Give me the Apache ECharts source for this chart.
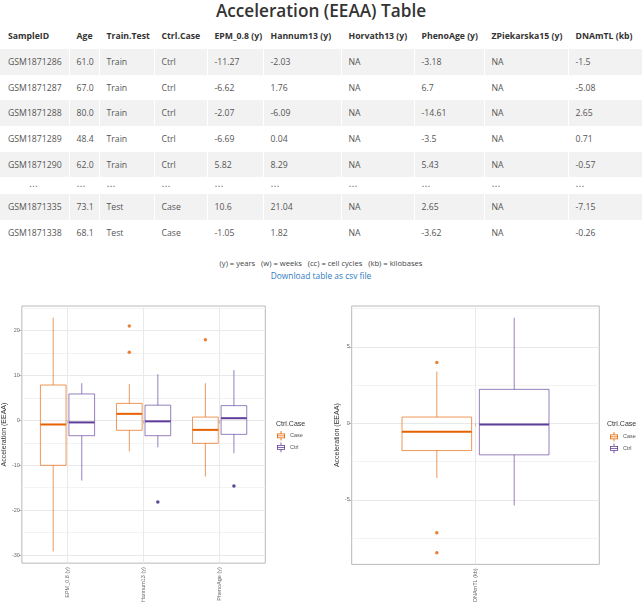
<!DOCTYPE html>
<html>
<head>
<meta charset="utf-8">
<script src="https://cdn.jsdelivr.net/npm/echarts/dist/echarts.min.js"></script>
<style>
  html, body { margin:0; padding:0; background:#fff; }
  body { width:642px; height:605px; position:relative; overflow:hidden; font-family:'Open Sans', sans-serif; }
  #title { position:absolute; top:0; left:0; width:642px; text-align:center; font-size:17.2px; line-height:22px; font-weight:600; color:#333; }
  #tbl { position:absolute; top:23px; left:0; width:642px; border-collapse:collapse; table-layout:fixed; font-size:8.7px; color:#555; }
  #tbl td, #tbl th { padding:0 0 0 7px; text-align:left; white-space:nowrap; overflow:hidden; border-left:1px solid #fff; }
  #tbl td:first-child, #tbl th:first-child { padding-left:8px; border-left:none; }
  #tbl th { font-weight:700; color:#333; }
  #tbl tr.g td { background:#f2f2f2; }
  #tbl td.dots { font-family:'DejaVu Sans'; font-size:9px; color:#666; }
  #note { position:absolute; top:257px; left:0; width:642px; text-align:center; font-size:7.6px; color:#444; line-height:13px; white-space:pre; }
  #link { position:absolute; top:269px; left:0; width:642px; text-align:center; font-size:8.4px; color:#2f7bbf; line-height:13px; }
  #chart { position:absolute; top:290px; left:0; width:642px; height:315px; }
</style>
</head>
<body>
<div id="title">Acceleration (EEAA) Table</div>
<table id="tbl"></table>
<div id="note"></div>
<div id="link">Download table as csv file</div>
<div id="chart"></div>
<script>
// ---------- table data ----------
const tableHeaders = ['SampleID','Age','Train.Test','Ctrl.Case','EPM_0.8 (y)','Hannum13 (y)','Horvath13 (y)','PhenoAge (y)','ZPiekarska15 (y)','DNAmTL (kb)'];
const tableRows = [
  ['GSM1871286','61.0','Train','Ctrl','-11.27','-2.03','NA','-3.18','NA','-1.5'],
  ['GSM1871287','67.0','Train','Ctrl','-6.62','1.76','NA','6.7','NA','-5.08'],
  ['GSM1871288','80.0','Train','Ctrl','-2.07','-6.09','NA','-14.61','NA','2.65'],
  ['GSM1871289','48.4','Train','Ctrl','-6.69','0.04','NA','-3.5','NA','0.71'],
  ['GSM1871290','62.0','Train','Ctrl','5.82','8.29','NA','5.43','NA','-0.57'],
  ['⋯','⋯','⋯','⋯','⋯','⋯','⋯','⋯','⋯','⋯'],
  ['GSM1871335','73.1','Test','Case','10.6','21.04','NA','2.65','NA','-7.15'],
  ['GSM1871338','68.1','Test','Case','-1.05','1.82','NA','-3.62','NA','-0.26']
];
const footnote = '(y) = years   (w) = weeks   (cc) = cell cycles   (kb) = kilobases';

// ---------- boxplot data ----------
const categoriesLeft = ['EPM_0.8 (y)','Hannum13 (y)','PhenoAge (y)'];
// [lower whisker, Q1, median, Q3, upper whisker]
const caseStatsLeft = [[-29.2,-10.0,-0.9,7.9,22.9],[-6.9,-2.2,1.47,3.8,8.1],[-12.5,-5.1,-2.1,0.75,8.3]];
const ctrlStatsLeft = [[-13.4,-3.4,-0.44,5.9,8.3],[-6.0,-3.4,-0.2,3.4,10.3],[-7.3,-3.1,0.5,3.3,11.2]];
// [category index, value]
const caseOutliersLeft = [[1,21.04],[1,15.2],[2,18.0]];
const ctrlOutliersLeft = [[1,-18.2],[2,-14.61]];
const ticksLeft = [-30,-20,-10,0,10,20];
const minorTicksLeft = [-25,-15,-5,5,15,25];

const categoriesRight = ['DNAmTL (kb)'];
const caseStatsRight = [[-3.57,-1.78,-0.55,0.41,3.38]];
const ctrlStatsRight = [[-5.37,-2.06,-0.08,2.22,6.9]];
const caseOutliersRight = [[0,3.98],[0,-7.15],[0,-8.45]];
const ctrlOutliersRight = [];
const ticksRight = [-5,0,5];
const minorTicksRight = [-7.5,-2.5,2.5,7.5];

const groupNames = ['Case','Ctrl'];
const legendTitle = 'Ctrl.Case';
const yTitle = 'Acceleration (EEAA)';

// ---------- build table ----------
(function(){
  const t = document.getElementById('tbl');
  const widths = [69,30,55,53,56,78,73,70,84,74];
  let html = '<colgroup>' + widths.map(w=>'<col style="width:'+w+'px">').join('') + '</colgroup>';
  html += '<tr style="height:26px">' + tableHeaders.map(h=>'<th>'+h+'</th>').join('') + '</tr>';
  tableRows.forEach((r,i)=>{
    const isDots = r[0] === '⋯';
    const cls = (i % 2 === 0) ? 'g' : '';
    const h = isDots ? 17 : 25.7;
    html += '<tr class="'+cls+'" style="height:'+h+'px">' + r.map((c,j)=>{
      if (isDots) return '<td class="dots"' + (j===0?' style="padding-left:29px"':'') + '>'+c+'</td>';
      return '<td>'+c+'</td>';
    }).join('') + '</tr>';
  });
  t.innerHTML = html;
  document.getElementById('note').textContent = footnote;
})();

// ---------- chart ----------
const CASE_COLOR = '#e66101';
const CTRL_COLOR = '#5e3c99';
const CASE_PT = '#e66101';
const CTRL_PT = '#2e1c7a';
const BOX_W = 0.3375, DODGE = 0.1875;

function expandRange(stats, outs){
  let lo = Infinity, hi = -Infinity;
  stats.forEach(s=>s.forEach(v=>{lo=Math.min(lo,v);hi=Math.max(hi,v);}));
  outs.forEach(o=>{lo=Math.min(lo,o[1]);hi=Math.max(hi,o[1]);});
  const pad = (hi-lo)*0.05;
  return [lo-pad, hi+pad];
}
const rangeLeft = expandRange(caseStatsLeft.concat(ctrlStatsLeft), caseOutliersLeft.concat(ctrlOutliersLeft));
const rangeRight = expandRange(caseStatsRight.concat(ctrlStatsRight), caseOutliersRight.concat(ctrlOutliersRight));

function boxData(stats, sign){ return stats.map((s,i)=>[i+1+sign*DODGE].concat(s)); }
function outData(outs, sign){ return outs.map(o=>[o[0]+1+sign*DODGE, o[1]]); }

function makeRender(color){
  return function(params, api){
    const x = api.value(0);
    const lo = api.coord([x, api.value(1)]);
    const q1 = api.coord([x, api.value(2)]);
    const md = api.coord([x, api.value(3)]);
    const q3 = api.coord([x, api.value(4)]);
    const hi = api.coord([x, api.value(5)]);
    const hw = api.size([BOX_W, 0])[0] / 2;
    const cx = md[0];
    const thin = {stroke: color, lineWidth: 1, opacity: 0.65, fill: 'none'};
    return {type:'group', children:[
      {type:'line', shape:{x1:cx,y1:hi[1],x2:cx,y2:q3[1]}, style:thin},
      {type:'line', shape:{x1:cx,y1:q1[1],x2:cx,y2:lo[1]}, style:thin},
      {type:'rect', shape:{x:cx-hw,y:q3[1],width:2*hw,height:q1[1]-q3[1]}, style:thin},
      {type:'line', shape:{x1:cx-hw,y1:md[1],x2:cx+hw,y2:md[1]}, style:{stroke:color,lineWidth:2}}
    ]};
  };
}

const FONT = 'Liberation Sans';
const LBL = '#6b6b6b';
const GRID_C = '#e9e9e9';
const MINOR_C = '#f3f3f3';
const BORDER_C = '#b8b8b8';
const ICON = 'path://M4.5,0H5.5V3H4.5Z M0,3H10V9H0Z M1,4V8H9V4Z M1,5.5H9V6.5H1Z M4.5,9H5.5V12H4.5Z';

function xAxisCfg(grid, cats){
  const vals = cats.map((c,i)=>i+1);
  return {
    gridIndex: grid, type:'value', min:0.4, max:cats.length+0.6,
    axisLine:{show:false},
    axisTick:{show:true, length:3, lineStyle:{color:BORDER_C}, customValues: vals},
    axisLabel:{customValues: vals, rotate:90, fontSize:5.5, color:LBL, margin:4, fontFamily:FONT,
      formatter: v => cats[Math.round(v)-1] || ''},
    splitLine:{show:true, lineStyle:{color:GRID_C, width:1}}
  };
}
function yAxisCfg(grid, range, ticks, gap){
  return {
    gridIndex: grid, type:'value', min:range[0], max:range[1],
    axisLine:{show:false},
    axisTick:{show:true, length:3, lineStyle:{color:BORDER_C}, customValues: ticks},
    axisLabel:{customValues: ticks, fontSize:5.5, color:LBL, margin:2, fontFamily:FONT},
    splitLine:{show:true, lineStyle:{color:GRID_C, width:1}},
    name: yTitle, nameLocation:'middle', nameGap: gap,
    nameTextStyle:{fontSize:7, color:'#333', fontFamily:FONT}
  };
}
function yMinorCfg(grid, range, ticks){
  return {
    gridIndex: grid, type:'value', min:range[0], max:range[1], position:'left',
    axisLine:{show:false}, axisTick:{show:false, customValues: ticks},
    axisLabel:{show:false, customValues: ticks},
    splitLine:{show:true, lineStyle:{color:MINOR_C, width:1}}
  };
}

const option = {
  animation:false,
  textStyle:{fontFamily:FONT},
  title:[
    {text:legendTitle, left:276, top:131, padding:0, textStyle:{fontSize:7, fontWeight:'normal', color:'#333', fontFamily:FONT}},
    {text:legendTitle, left:607, top:131, padding:0, textStyle:{fontSize:7, fontWeight:'normal', color:'#333', fontFamily:FONT}}
  ],
  legend:[
    {data:groupNames, orient:'vertical', left:277, top:141, padding:0, itemWidth:8, itemHeight:10, itemGap:2, icon:ICON, selectedMode:false,
      textStyle:{fontSize:5.5, color:'#555', fontFamily:FONT}},
    {data:groupNames, orient:'vertical', left:610, top:142, padding:0, itemWidth:8, itemHeight:10, itemGap:2, icon:ICON, selectedMode:false,
      textStyle:{fontSize:5.5, color:'#555', fontFamily:FONT}}
  ],
  grid:[
    {left:19.3, top:16, width:246, height:261.3, show:true, borderColor:BORDER_C, borderWidth:1, backgroundColor:'transparent'},
    {left:351.7, top:16, width:247.6, height:261.7, show:true, borderColor:BORDER_C, borderWidth:1, backgroundColor:'transparent'}
  ],
  xAxis:[ xAxisCfg(0, categoriesLeft), xAxisCfg(1, categoriesRight) ],
  yAxis:[
    yAxisCfg(0, rangeLeft, ticksLeft, 11),
    yMinorCfg(0, rangeLeft, minorTicksLeft),
    yAxisCfg(1, rangeRight, ticksRight, 9),
    yMinorCfg(1, rangeRight, minorTicksRight)
  ],
  series:[
    {type:'custom', name:'Case', xAxisIndex:0, yAxisIndex:0, renderItem:makeRender(CASE_COLOR), itemStyle:{color:CASE_COLOR},
      data:boxData(caseStatsLeft,-1), encode:{x:0, y:[1,2,3,4,5]}, z:3},
    {type:'custom', name:'Ctrl', xAxisIndex:0, yAxisIndex:0, renderItem:makeRender(CTRL_COLOR), itemStyle:{color:CTRL_COLOR},
      data:boxData(ctrlStatsLeft,1), encode:{x:0, y:[1,2,3,4,5]}, z:3},
    {type:'custom', name:'Case', xAxisIndex:1, yAxisIndex:2, renderItem:makeRender(CASE_COLOR), itemStyle:{color:CASE_COLOR},
      data:boxData(caseStatsRight,-1), encode:{x:0, y:[1,2,3,4,5]}, z:3},
    {type:'custom', name:'Ctrl', xAxisIndex:1, yAxisIndex:2, renderItem:makeRender(CTRL_COLOR), itemStyle:{color:CTRL_COLOR},
      data:boxData(ctrlStatsRight,1), encode:{x:0, y:[1,2,3,4,5]}, z:3},
    {type:'scatter', name:'Case', xAxisIndex:0, yAxisIndex:0, symbolSize:3.5, itemStyle:{color:CASE_PT}, data:outData(caseOutliersLeft,-1), z:4},
    {type:'scatter', name:'Ctrl', xAxisIndex:0, yAxisIndex:0, symbolSize:3.5, itemStyle:{color:CTRL_PT}, data:outData(ctrlOutliersLeft,1), z:4},
    {type:'scatter', name:'Case', xAxisIndex:1, yAxisIndex:2, symbolSize:3.5, itemStyle:{color:CASE_PT}, data:outData(caseOutliersRight,-1), z:4},
    {type:'scatter', name:'Ctrl', xAxisIndex:1, yAxisIndex:2, symbolSize:3.5, itemStyle:{color:CTRL_PT}, data:outData(ctrlOutliersRight,1), z:4}
  ]
};
const chart = echarts.init(document.getElementById('chart'), null, {renderer:'canvas'});
chart.setOption(option);
</script>
</body>
</html>
